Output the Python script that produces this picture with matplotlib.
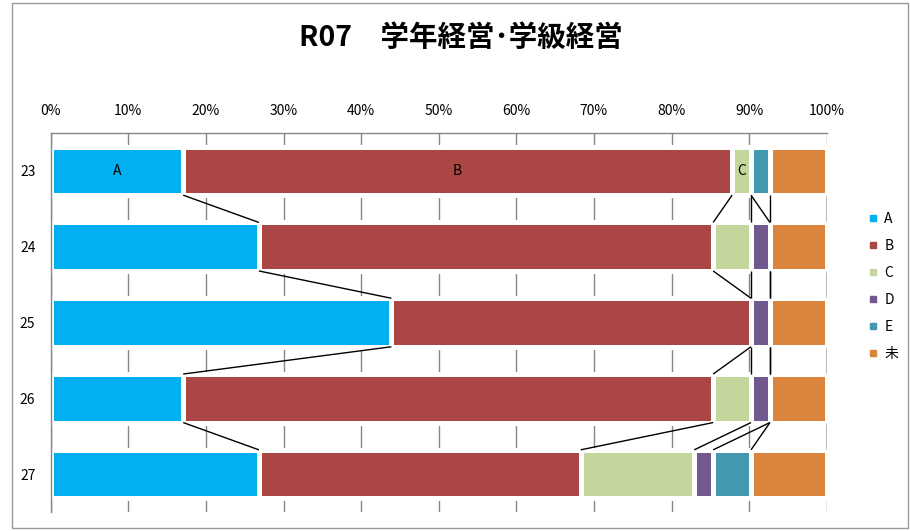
import matplotlib
matplotlib.use("Agg")
import matplotlib.pyplot as plt
import matplotlib.patheffects as pe
from matplotlib.lines import Line2D
from matplotlib.patches import Rectangle
import numpy as np

plt.rcParams['font.family'] = ['Noto Sans CJK JP', 'DejaVu Sans']

# --- data (counts per category, 41 in total) ---
years = ['23', '24', '25', '26', '27']
series = ['A', 'B', 'C', 'D', 'E', '未']
cnt_A = [7, 11, 18, 7, 11]
cnt_B = [29, 24, 19, 28, 17]
cnt_C = [1, 2, 0, 2, 6]
cnt_D = [0, 1, 1, 1, 1]
cnt_E = [1, 0, 0, 0, 2]
cnt_U = [3, 3, 3, 3, 4]
colors = ['#00B0F0', '#AA4643', '#C3D69B', '#71588F', '#4198AF', '#DB843D']
title = 'R07\u3000学年経営\uff65学級経営'

counts = np.array([cnt_A, cnt_B, cnt_C, cnt_D, cnt_E, cnt_U], dtype=float)
pct = counts / counts.sum(axis=0) * 100
cum = np.cumsum(pct, axis=0)
left = cum - pct

fig = plt.figure(figsize=(9.1, 5.31), dpi=100)
ax = fig.add_axes([0.0557, 0.0358, 0.8528, 0.7137])

y = np.arange(len(years))
h = 0.64
shadow = [pe.SimplePatchShadow(offset=(1.5, -2), shadow_rgbFace='#c8c8c8', alpha=0.5), pe.Normal()]
conts = []
for k, name in enumerate(series):
    c = ax.barh(y, pct[k], left=left[k], height=h, color=colors[k],
                edgecolor='white', linewidth=3.6, label=name, zorder=2)
    for p in c.patches:
        p.set_path_effects(shadow)
    conts.append(c)

# data labels only on the first row for A, B, C
for k in range(3):
    labs = [series[k]] + [''] * (len(years) - 1)
    ax.bar_label(conts[k], labels=labs, label_type='center', fontsize=10, color='black')

# series lines
for i in range(len(years) - 1):
    for k in range(len(series)):
        ax.plot([cum[k, i], cum[k, i + 1]], [i + h / 2, i + 1 - h / 2],
                color='black', lw=1.0, zorder=3, solid_capstyle='butt')

ax.set_xlim(0, 100)
ax.set_ylim(len(years) - 0.5, -0.5)
ax.set_xticks(np.arange(0, 101, 10))
ax.set_xticklabels([f'{v}%' for v in range(0, 101, 10)])
ax.set_yticks(y)
ax.set_yticklabels(years)
ax.xaxis.tick_top()
ax.tick_params(axis='x', length=0, pad=11, labelsize=10)
ax.tick_params(axis='y', length=0, pad=11, labelsize=10)
ax.grid(axis='x', color='#868686', lw=1.0, zorder=0)
ax.set_axisbelow(True)
for s in ['right', 'bottom']:
    ax.spines[s].set_visible(False)
for s in ['left', 'top']:
    ax.spines[s].set_color('#868686')
    ax.spines[s].set_linewidth(1.0)

fig.text(0.506, 0.928, title, ha='center', va='center', fontsize=20.5, fontweight='bold')

handles = [Line2D([], [], marker='s', ls='none', markersize=4, color=c) for c in colors]
fig.legend(handles, series, loc='center left', bbox_to_anchor=(0.955, 0.461), frameon=False,
           fontsize=10, handlelength=0.6, handletextpad=0.5, labelspacing=0.94,
           borderpad=0, borderaxespad=0)

fig.patches.append(Rectangle((12 / 910, 3 / 531), 896 / 910, 525 / 531, transform=fig.transFigure,
                             fill=False, edgecolor='#999999', lw=1.0))

fig.savefig('out.png', dpi=100)
